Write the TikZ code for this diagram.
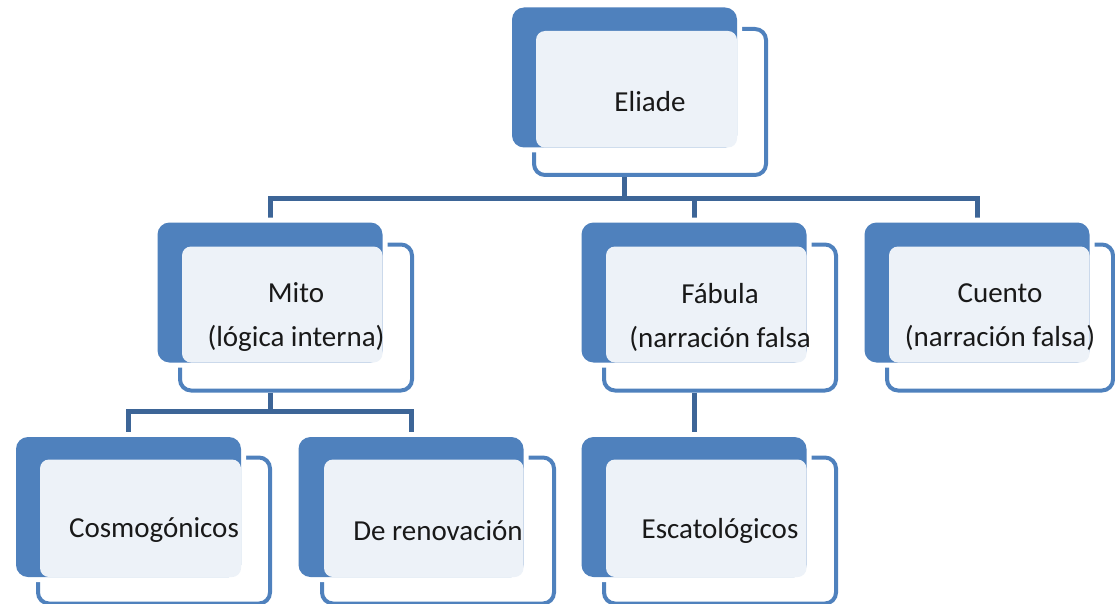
\documentclass[tikz,border=0pt]{standalone}
\usepackage{fontspec}
\setmainfont{Carlito}
\pgfdeclarelayer{bg}
\pgfsetlayers{bg,main}
\definecolor{backblue}{RGB}{79,129,189}
\definecolor{lineblue}{RGB}{61,101,151}
\definecolor{paleblue}{RGB}{237,242,248}
\definecolor{txtcol}{RGB}{25,25,25}
\newcommand\mkbox[5][]{%
  \node[frontbox,#1] (#2F) at (#3) {};
  \node[backbox] (#2B) at (#4) {};
  \fill[paleface] ([shift={(4,4)}]#2F.north west) rectangle (#2B.south east);
  \node[txtlbl] (#2T) at (#2F.center) {#5};
}
\begin{document}
\begin{tikzpicture}[x=1pt,y=-1pt,
  frontbox/.style={draw=backblue, line width=4pt, fill=white, rounded corners=11pt,
    minimum width=232pt, minimum height=146pt, inner sep=0pt},
  backbox/.style={fill=backblue, rounded corners=12pt, outer sep=0pt,
    minimum width=225pt, minimum height=140pt, inner sep=0pt,
    preaction={draw=white, line width=10pt}},
  paleface/.style={fill=paleblue, rounded corners=9pt},
  txtlbl/.style={text=txtcol, font=\fontsize{29}{44}\selectfont, align=center, inner sep=0pt},
  conn/.style={draw=lineblue, line width=5pt}
]
\useasboundingbox (0,0) rectangle (1115,604);
\mkbox{eliade}{650,102}{624.5,77.5}{Eliade}
\mkbox{mito}{296,317.5}{270,292.5}{Mito\\(lógica interna)}
\mkbox{fabula}{720,317.5}{694,292.5}{Fábula\\(narración falsa}
\mkbox[minimum width=226pt]{cuento}{1000,317.5}{977,292.5}{Cuento\\(narración falsa)}
\mkbox{cosmo}{154,530.5}{128.5,507}{Cosmogónicos}
\mkbox{renov}{438,530.5}{411,507}{De renovación}
\mkbox{escat}{720,530.5}{694,507}{Escatológicos}
\begin{pgfonlayer}{bg}
  \coordinate (busA) at (0,198);
  \coordinate (busB) at (0,411);
  \draw[conn] (eliadeB |- eliadeF.south) -- (eliadeB |- busA) -| (mitoB.north);
  \draw[conn] (eliadeB |- busA) -| (fabulaB.north);
  \draw[conn] (eliadeB |- busA) -| (cuentoB.north);
  \draw[conn] (mitoB |- mitoF.south) -- (mitoB |- busB) -| (cosmoB.north);
  \draw[conn] (mitoB |- busB) -| (renovB.north);
  \draw[conn] (fabulaB |- fabulaF.south) -- (escatB.north);
\end{pgfonlayer}
\end{tikzpicture}
\end{document}
